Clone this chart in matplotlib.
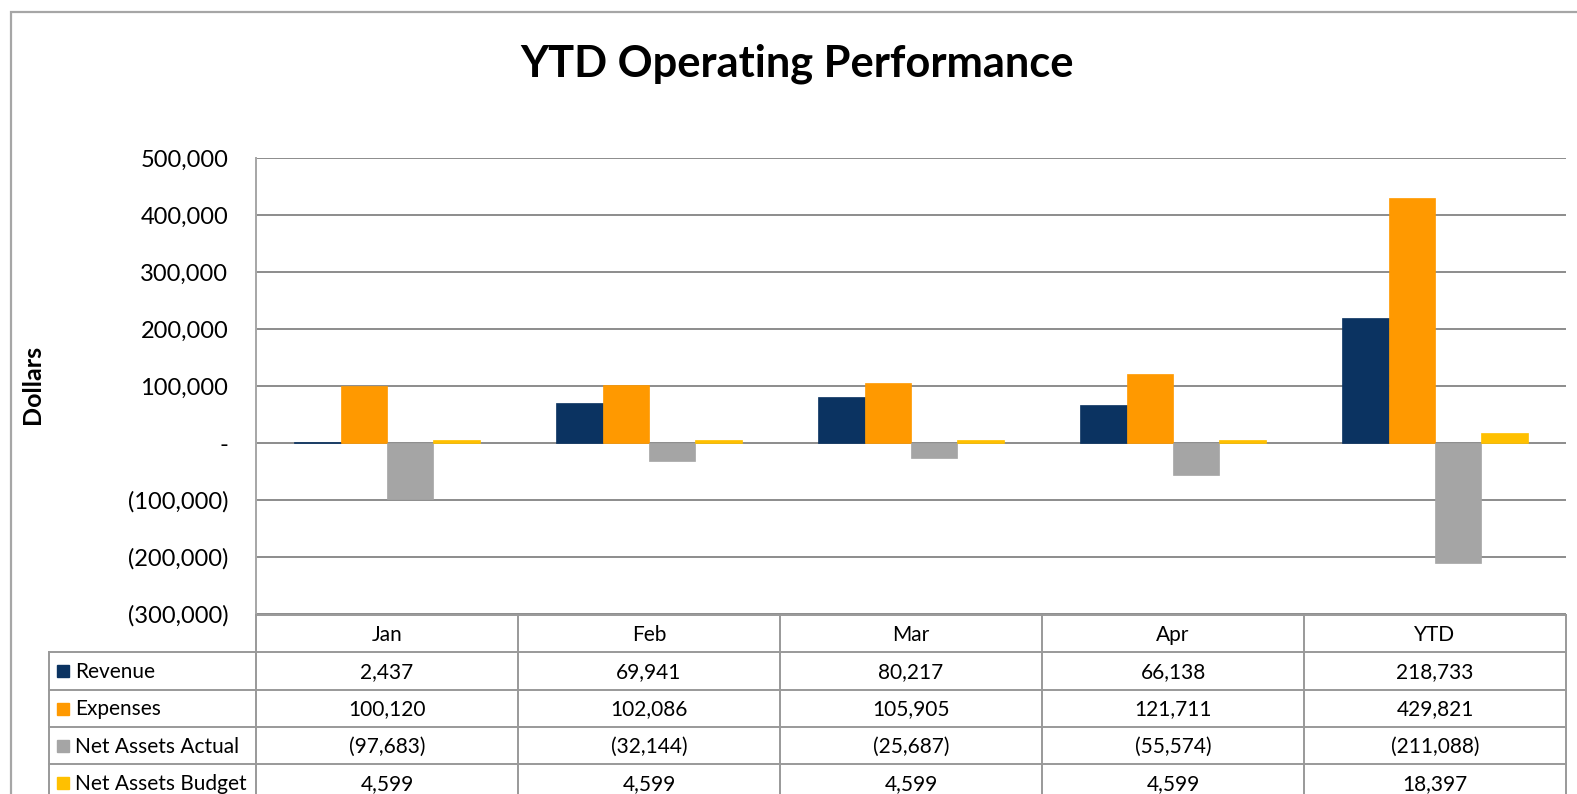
import numpy as np
import matplotlib
matplotlib.use("Agg")
import matplotlib.pyplot as plt
from matplotlib.patches import Rectangle
from matplotlib.transforms import blended_transform_factory

plt.rcParams['font.family'] = ['Lato', 'DejaVu Sans']

# data
months = ['Jan', 'Feb', 'Mar', 'Apr', 'YTD']
series = ['Revenue', 'Expenses', 'Net Assets Actual', 'Net Assets Budget']
revenue = [2437, 69941, 80217, 66138, 218733]
expenses = [100120, 102086, 105905, 121711, 429821]
net_actual = [-97683, -32144, -25687, -55574, -211088]
net_budget = [4599, 4599, 4599, 4599, 18397]
colors = ['#0b3361', '#ff9900', '#a5a5a5', '#ffc000']
yticks = [-300000, -200000, -100000, 0, 100000, 200000, 300000, 400000, 500000]

W, H = 1577, 794
fig = plt.figure(figsize=(W / 100, H / 100), dpi=100)


def fx(px):
    return px / W


def fy(py):
    return 1 - py / H


grey = '#8c8c8c'
plot_l, plot_r, plot_t, plot_b = 256, 1566, 158, 614
ax = fig.add_axes([fx(plot_l), fy(plot_b), fx(plot_r - plot_l), (plot_b - plot_t) / H])

vals = [revenue, expenses, net_actual, net_budget]
x = np.arange(len(months))
bw = 0.177
for i, (v, c) in enumerate(zip(vals, colors)):
    ax.bar(x + (i - 1.5) * bw, v, width=bw, color=c, zorder=3,
           edgecolor=c, linewidth=0.5)

ax.set_xlim(-0.5, len(months) - 0.5)
ax.set_ylim(-300000, 500000)
ax.set_yticks(yticks)


def fmt(v):
    if v == 0:
        return '-'
    if v < 0:
        return '({:,.0f})'.format(-v)
    return '{:,.0f}'.format(v)


ax.set_yticklabels([fmt(v) for v in yticks], fontsize=17)
ax.tick_params(axis='y', length=0, pad=20)
ax.set_xticks([])
ax.yaxis.grid(True, color=grey, linewidth=1.4, zorder=0)
for s in ['top', 'right', 'bottom']:
    ax.spines[s].set_visible(False)
ax.spines['left'].set_color('#a6a6a6')
ax.spines['left'].set_linewidth(1.4)
ax.set_facecolor('none')

fig.text(fx(33), fy(384), 'Dollars', rotation=90, ha='center', va='center',
         fontsize=18, fontweight='bold')
fig.text(fx(797), fy(64), 'YTD Operating Performance', ha='center', va='center',
         fontsize=31.2, fontweight='bold')

# outer chart border
fig.add_artist(Rectangle((fx(11), fy(830)), fx(1700), (830 - 12) / H,
                         transform=fig.transFigure, fill=False,
                         edgecolor='#a6a6a6', linewidth=1.6))

# data table
ov = fig.add_axes([0, 0, 1, 1])
ov.set_xlim(0, W)
ov.set_ylim(H, 0)
ov.axis('off')
ov.patch.set_alpha(0)
tr = blended_transform_factory(ax.transData, ov.transData)

row_h = 37.3
tab_top = plot_b + 1
leg_l = 49
edges = np.arange(len(months) + 1) - 0.5
lc = '#999999'
# horizontal lines
ov.plot([plot_l, plot_r], [tab_top, tab_top], color=lc, lw=1.4)
for r in range(1, len(series) + 2):
    yy = tab_top + r * row_h
    ov.plot([leg_l, plot_r], [yy, yy], color=lc, lw=1.4)
# vertical lines
for e in edges:
    ov.plot([e, e], [tab_top, tab_top + (len(series) + 1) * row_h], color=lc,
            lw=1.4, transform=tr)
ov.plot([leg_l, leg_l], [tab_top + row_h, tab_top + (len(series) + 1) * row_h],
        color=lc, lw=1.4)

fs = 15
for j, m in enumerate(months):
    ov.text(x[j], tab_top + row_h / 2 + 1, m, ha='center', va='center',
            fontsize=fs, transform=tr)
for i, (name, v, c) in enumerate(zip(series, vals, colors)):
    yc = tab_top + (i + 1.5) * row_h + 1
    ov.add_patch(Rectangle((57, yc - 6.5), 12, 12, color=c))
    ov.text(75, yc, name, ha='left', va='center', fontsize=fs)
    for j in range(len(months)):
        ov.text(x[j], yc, fmt(v[j]), ha='center', va='center', fontsize=fs,
                transform=tr)

fig.savefig('out.png', dpi=100)
